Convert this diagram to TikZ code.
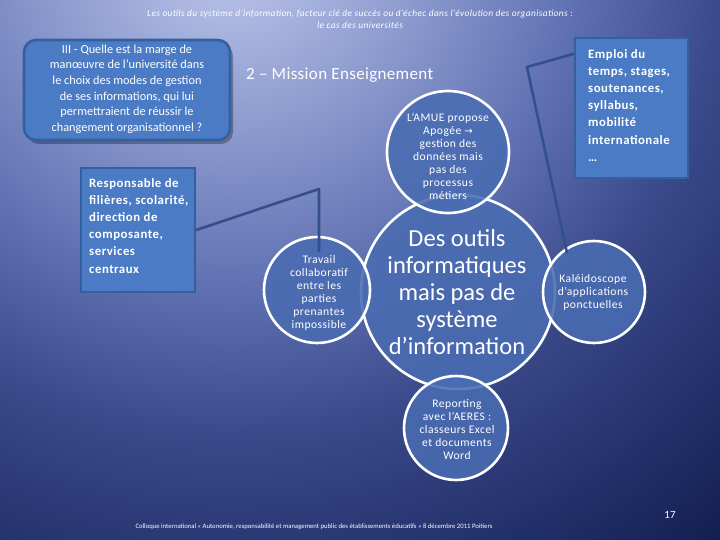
\documentclass[tikz,border=0pt]{standalone}
\usepackage{fontspec}
\setmainfont{Carlito}
\newfontfamily\arrowfont{DejaVu Sans}
\usetikzlibrary{shadows,calc}
\definecolor{bgA}{HTML}{C4CCEC}
\definecolor{bgB}{HTML}{AAB6E0}
\definecolor{bgC}{HTML}{6576B6}
\definecolor{bgD}{HTML}{3A4A8A}
\definecolor{bgE}{HTML}{22306A}
\definecolor{bgF}{HTML}{0E1846}
\definecolor{boxfill}{HTML}{4A7BC4}
\definecolor{boxedge}{HTML}{3560A0}
\definecolor{circfill}{HTML}{4A6CB2}
\definecolor{lineclr}{HTML}{33508C}
\pgfdeclareradialshading{bgshade}{\pgfpoint{0bp}{0bp}}{color(0bp)=(bgA); color(2.5bp)=(bgB); color(10bp)=(bgC); color(15bp)=(bgD); color(20bp)=(bgE); color(25bp)=(bgF); color(50bp)=(bgF)}
\tikzset{
  circ/.style={circle, draw=white, line width=2.6pt, fill=circfill, fill opacity=0.88, draw opacity=1, inner sep=0pt},
  ctext/.style={text=white, align=center, font=\fontsize{11.6}{13}\selectfont\addfontfeatures{LetterSpace=4}, inner sep=0pt},
  bigtext/.style={text=white, align=center, font=\fontsize{24.5}{27}\selectfont, inner sep=0pt},
  sqbox/.style={rectangle, draw=boxedge, line width=2.4pt, fill=boxfill, inner sep=0pt},
  btext/.style={text=white, align=left, font=\bfseries\fontsize{12.8}{17.2}\selectfont\addfontfeatures{LetterSpace=4}, inner sep=0pt},
  conn/.style={draw=lineclr, line width=2.6pt, line join=round}
}
\begin{document}
\begin{tikzpicture}[x=1pt,y=-1pt]
\path[use as bounding box] (0,0) rectangle (720,540);
\begin{scope}
\clip (0,0) rectangle (720,540);
\shade[shading=bgshade] (230,-60) circle (820);
\end{scope}

% title
\node[text=white, align=center, font=\itshape\fontsize{9.4}{12}\selectfont\addfontfeatures{LetterSpace=4}, inner sep=0pt] (title) at (360,19)
 {Les outils du système d’information, facteur clé de succès ou d’échec dans l’évolution des organisations :\\ le cas des universités};

% question box
\node[rectangle, rounded corners=12pt, draw=boxedge, line width=2.6pt, fill=boxfill,
  minimum width=206pt, minimum height=100pt, inner sep=0pt,
  drop shadow={shadow xshift=3pt, shadow yshift=-4pt, fill=black, opacity=0.3}] (q) at (127,90) {};
\node[text=white, align=center, font=\fontsize{12.3}{15.6}\selectfont, inner sep=0pt] (qt) at (127,89)
 {III - Quelle est la marge de\\ manœuvre de l’université dans\\ le choix des modes de gestion\\ de ses informations, qui lui\\ permettraient de réussir le\\ changement organisationnel ?};

% mission title
\node[text=white, font=\fontsize{17}{19}\selectfont\addfontfeatures{LetterSpace=2}, inner sep=0pt, anchor=west] (mission) at (246,75) {2 – Mission Enseignement};

% Responsable box
\node[sqbox, minimum width=114pt, minimum height=124pt] (resp) at (138,230) {};
\node[btext, anchor=north west] (respt) at (89,178)
 {Responsable de\\ filières, scolarité,\\ direction de\\ composante,\\ services\\ centraux};

% Emploi box
\node[sqbox, minimum width=113pt, minimum height=140pt] (emp) at (631.5,108) {};
\node[btext, anchor=north west] (empt) at (588,49)
 {Emploi du\\ temps, stages,\\ soutenances,\\ syllabus,\\ mobilité\\ internationale\\ …};

% circles
\node[circ, minimum size=194pt] (big) at (458,292) {};
\node[circ, minimum size=122pt] (top) at (448,152) {};
\node[circ, minimum size=106pt] (trav) at (317,290) {};
\node[circ, minimum size=102pt] (kal) at (594,292) {};
\node[circ, minimum size=104pt] (rep) at (456,428) {};

\node[bigtext] (bigt) at (457,292) {Des outils\\ informatiques\\ mais pas de\\ système\\ d’information};
\node[ctext] (topt) at (448,156) {L’AMUE propose\\ Apogée {\arrowfont\fontsize{10}{13}\selectfont →}\\ gestion des\\ données mais\\ pas des\\ processus\\ métiers};
\node[ctext] (travt) at (319,293) {Travail\\ collaboratif\\ entre les\\ parties\\ prenantes\\ impossible};
\node[ctext] (kalt) at (593,292) {Kaléidoscope\\ d’applications\\ ponctuelles};
\node[ctext] (rept) at (457,430) {Reporting\\ avec l’AERES :\\ classeurs Excel\\ et documents\\ Word};

% connectors
\coordinate (k1) at (319,189);
\coordinate (e1) at (319,252);
\draw[conn] (resp.east) -- (k1) -- (e1);
\coordinate (k2) at (527,67);
\coordinate (e2) at (567,253);
\draw[conn] ($(emp.north west)+(0,17)$) -- (k2) -- (e2);

% footer
\node[text=white, font=\fontsize{6.7}{8}\selectfont, inner sep=0pt] (foot) at (314,527)
 {Colloque international « Autonomie, responsabilité et management public des établissements éducatifs » 8 décembre 2011 Poitiers};
\node[text=white, font=\fontsize{11}{13}\selectfont, inner sep=0pt] (page) at (670,515) {17};
\end{tikzpicture}
\end{document}
